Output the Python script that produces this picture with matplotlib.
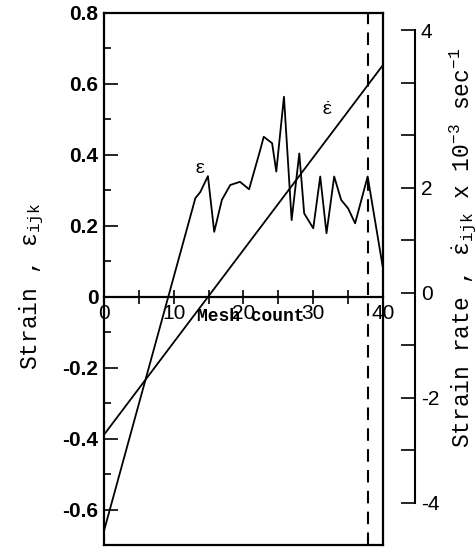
import numpy as np
import matplotlib
matplotlib.use("Agg")
import matplotlib.pyplot as plt
from matplotlib.lines import Line2D
from matplotlib.ticker import FixedLocator, FixedFormatter

# === Données ===
mesh = [0, 13.1, 13.8, 14.9, 15.8, 16.9, 18.1, 19.5, 20.8, 22.4, 22.9, 24.1, 24.7,
        25.8, 26.9, 28.0, 28.7, 30.0, 31.0, 31.9, 33.0, 34.0, 35.0, 36.0, 37.8, 40.0]
strain = [-0.66, 0.278, 0.295, 0.34, 0.183, 0.273, 0.315, 0.324, 0.303, 0.414, 0.451,
          0.433, 0.353, 0.564, 0.216, 0.404, 0.235, 0.193, 0.339, 0.179, 0.339, 0.273,
          0.249, 0.207, 0.339, 0.08]

rate_mesh = [0, 40]
rate = [-2.7, 4.34]          # x 10^-3 sec^-1

x_dashed = 37.8

strain_ticks = [0.8, 0.6, 0.4, 0.2, 0, -0.2, -0.4, -0.6]
strain_labels = ["0.8", "0.6", "0.4", "0.2", "0", "-0.2", "-0.4", "-0.6"]
rate_ticks = [-4, -2, 0, 2, 5]
rate_labels = ["-4", "-2", "0", "2", "4"]
mesh_ticks = [0, 10, 20, 30, 40]

plt.rcParams['mathtext.fontset'] = 'custom'
plt.rcParams['mathtext.rm'] = 'Liberation Mono'
plt.rcParams['mathtext.it'] = 'Liberation Mono'
plt.rcParams['mathtext.bf'] = 'Liberation Mono:bold'

mono = dict(family='Liberation Mono', fontsize=16.5)
tickfont = dict(family='Liberation Sans', fontsize=15, fontweight='bold')

fig = plt.figure(figsize=(4.77, 5.51), dpi=100)
ax = fig.add_axes([104/477, 6/551, 279/477, 532/551])

ax.set_xlim(0, 40)
ax.set_ylim(-0.7, 0.8)

# === Courbe de déformation ===
ax.plot(mesh, strain, color='black', linewidth=1.3)

# === axe secondaire (vitesse de déformation) ===
ax2 = ax.twinx()
ax2.set_ylim(-4.8, 5.33)
ax2.plot(rate_mesh, rate, color='black', linewidth=1.3)
ax2.spines['right'].set_position(('axes', 1.115))
ax2.spines['right'].set_bounds(-4, 5)
ax2.spines['right'].set_linewidth(1.5)
for s in ['top', 'left', 'bottom']:
    ax2.spines[s].set_visible(False)
ax2.yaxis.set_major_locator(FixedLocator(rate_ticks))
ax2.yaxis.set_major_formatter(FixedFormatter(rate_labels))
ax2.yaxis.set_minor_locator(FixedLocator([-3, -1, 1, 3, 4]))
ax2.tick_params(axis='y', which='both', direction='in', length=10, width=1.2, pad=4)
for lab in ax2.get_yticklabels():
    lab.set_family('Liberation Sans')
    lab.set_fontsize(15)

# ligne verticale pointillée
ax.axvline(x_dashed, color='black', linestyle=(0, (6, 4)), linewidth=1.5)

# cadre
ax.spines['bottom'].set_position(('data', 0))
for s in ['top', 'left', 'right', 'bottom']:
    ax.spines[s].set_linewidth(1.6)
ax.add_line(Line2D([0, 1], [0, 0], transform=ax.transAxes, color='black',
                   linewidth=1.6, clip_on=False))

ax.yaxis.set_major_locator(FixedLocator(strain_ticks))
ax.yaxis.set_major_formatter(FixedFormatter(strain_labels))
ax.yaxis.set_minor_locator(FixedLocator([0.7, 0.5, 0.3, 0.1, -0.1, -0.3, -0.5]))
ax.tick_params(axis='y', which='major', direction='in', length=10, width=1.2, pad=4)
ax.tick_params(axis='y', which='minor', direction='in', length=5, width=1.2)
ax.set_xticks(mesh_ticks)
ax.set_xticks([5, 15, 25, 35], minor=True)
ax.tick_params(axis='x', which='both', direction='inout', length=10, width=1.2, pad=0)
for lab in ax.get_yticklabels():
    lab.set(**tickfont)
for lab in ax.get_xticklabels():
    lab.set_family('Liberation Sans')
    lab.set_fontsize(15)

ax.text(21, -0.055, "Mesh count", ha='center', va='center', family='Liberation Mono',
        fontsize=13, fontweight='bold')

ax.text(13.8, 0.363, r'$\varepsilon$', ha='center', va='center', fontsize=13)
ax.text(32.0, 0.527, r'$\dot{\varepsilon}$', ha='center', va='center', fontsize=13)

fig.text(32/477, 1 - 286/551, r'Strain , $\varepsilon_{ijk}$', rotation=90,
         ha='center', va='center', **mono)
fig.text(463/477, 1 - 248/551,
         r'Strain rate , $\dot{\varepsilon}_{ijk}$ x 10$^{-3}$ sec$^{-1}$',
         rotation=90, ha='center', va='center', **mono)

fig.savefig('out.png', dpi=100)
